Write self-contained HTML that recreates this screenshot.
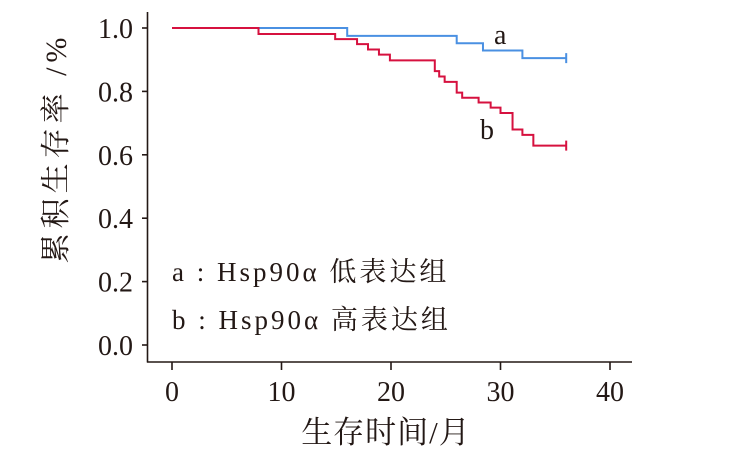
<!DOCTYPE html>
<html><head><meta charset="utf-8"><style>
body{margin:0;background:#fff;}
svg text{font-family:"Liberation Serif","Noto Serif CJK SC",serif;fill:#231815;}
</style></head><body>
<svg width="734" height="452" viewBox="0 0 734 452">
<g id="axes"></g>
<g id="series"></g>
<text x="494" y="44" font-size="28">a</text>
<text x="480" y="139" font-size="28">b</text>
<text x="172" y="281" font-size="27" letter-spacing="3">a : Hsp90α 低表达组</text>
<text x="172" y="329" font-size="27" letter-spacing="3">b : Hsp90α 高表达组</text>
<text x="386" y="443" font-size="31" letter-spacing="1" text-anchor="middle">生存时间/月</text>
<text transform="translate(66,148) rotate(-90)" font-size="30" letter-spacing="5" text-anchor="middle">累积生存率 /%</text>
</svg>
<script>
const xTicks=[0,10,20,30,40];
const yTicks=[0.0,0.2,0.4,0.6,0.8,1.0];
const timesA=[0,16.0,26.0,28.4,32.0,36];
const survA=[1.0,0.975,0.952,0.929,0.905,0.905];
const timesB=[0,7.9,14.9,16.9,17.9,18.9,19.9,24.0,24.4,24.9,26.0,26.5,28.0,29.1,30.0,31.1,32.0,33.0,36];
const survB=[1.0,0.981,0.965,0.949,0.932,0.916,0.898,0.864,0.847,0.830,0.796,0.780,0.765,0.749,0.732,0.680,0.663,0.629,0.629];
const NS='http://www.w3.org/2000/svg';
const xs=t=>172+t*10.95;
const ys=v=>345-v*317;
const ax=document.getElementById('axes');
function mk(tag,attrs,parent){const e=document.createElementNS(NS,tag);for(const k in attrs)e.setAttribute(k,attrs[k]);parent.appendChild(e);return e;}
let e=mk('line',{x1:147.5,y1:12,x2:147.5,y2:362.5,stroke:'#231815','stroke-width':1.6},ax);


e=mk('line',{x1:147,y1:362,x2:632,y2:362,stroke:'#231815','stroke-width':1.6},ax);


xTicks.forEach(t=>{
 let l=mk('line',{x1:xs(t),y1:362,x2:xs(t),y2:370,stroke:'#231815','stroke-width':1.6},ax);
 
 
 let tx=mk('text',{x:xs(t),y:401,'font-size':28,'text-anchor':'middle'},ax);tx.textContent=t;
 
 
});
yTicks.forEach(v=>{
 let l=mk('line',{x1:142,y1:ys(v),x2:147.5,y2:ys(v),stroke:'#231815','stroke-width':1.6},ax);
 
 
 let tx=mk('text',{x:133,y:ys(v)+10,'font-size':28,'text-anchor':'end'},ax);tx.textContent=v.toFixed(1);
 
 
});
const sg=document.getElementById('series');
function step(times,surv,color,name){
 let d='M'+xs(times[0])+','+ys(surv[0]);
 for(let i=1;i<times.length;i++){d+=' H'+xs(times[i])+' V'+ys(surv[i]);}
 let p=mk('path',{d:d,fill:'none',stroke:color,'stroke-width':2},sg);
 
 
 const lt=times[times.length-1],lv=surv[surv.length-1];
 let c=mk('line',{x1:xs(lt),y1:ys(lv)-5,x2:xs(lt),y2:ys(lv)+5,stroke:color,'stroke-width':2},sg);
 
 
}
step(timesA,survA,'#4a90e2','curve-a');
step(timesB,survB,'#d6113f','curve-b');
</script>
</body></html>
